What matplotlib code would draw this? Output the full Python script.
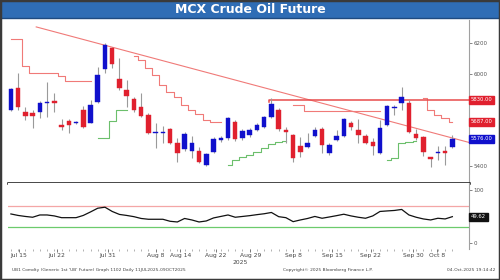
import matplotlib
matplotlib.use('Agg')
import matplotlib.pyplot as plt
from matplotlib.patches import Rectangle

# 캔들 데이터 (일봉, index 0 = Jul 14 부근)
opens = [5764, 5909, 5751, 5747, 5751, 5810, 5821, 5669, 5691, 5680,
         5764, 5682, 5818, 6029, 6165, 5964, 5894, 5834, 5782, 5732,
         5613, 5615, 5639, 5548, 5509, 5500, 5500, 5407, 5493, 5569,
         5584, 5688, 5580, 5602, 5636, 5656, 5717, 5764, 5634, 5602,
         5530, 5526, 5595, 5639, 5483, 5569, 5595, 5682, 5634, 5595,
         5558, 5483, 5667, 5775, 5808, 5812, 5608, 5587, 5457, 5487,
         5500, 5522]
highs = [5905, 6007, 5784, 5764, 5825, 5948, 5875, 5706, 5706, 5690,
         5790, 5829, 6046, 6200, 6176, 6100, 5959, 5851, 5877, 5743,
         5678, 5660, 5645, 5582, 5623, 5595, 5526, 5483, 5590, 5595,
         5720, 5699, 5640, 5645, 5680, 5725, 5840, 5775, 5656, 5608,
         5591, 5615, 5656, 5656, 5550, 5634, 5712, 5690, 5704, 5608,
         5582, 5699, 5797, 5797, 5916, 5830, 5639, 5595, 5461, 5530,
         5530, 5600]
lows = [5755, 5764, 5699, 5647, 5712, 5721, 5753, 5634, 5617, 5676,
        5650, 5678, 5808, 6007, 6035, 5894, 5786, 5753, 5717, 5608,
        5515, 5548, 5545, 5428, 5496, 5450, 5422, 5400, 5487, 5556,
        5570, 5565, 5569, 5590, 5630, 5650, 5712, 5630, 5548, 5428,
        5461, 5515, 5587, 5483, 5470, 5560, 5590, 5634, 5548, 5540,
        5472, 5478, 5660, 5730, 5764, 5613, 5569, 5465, 5392, 5439,
        5407, 5515]
closes = [5899, 5784, 5725, 5725, 5810, 5816, 5812, 5656, 5665, 5684,
          5656, 5797, 5992, 6187, 6063, 5905, 5855, 5764, 5725, 5613,
          5621, 5619, 5552, 5483, 5608, 5548, 5428, 5478, 5574, 5584,
          5710, 5574, 5630, 5634, 5667, 5717, 5803, 5642, 5621, 5450,
          5493, 5552, 5634, 5537, 5537, 5595, 5704, 5656, 5602, 5552,
          5530, 5645, 5790, 5786, 5847, 5623, 5580, 5493, 5444, 5493,
          5483, 5576]

# RSI
rsi = [54.7, 51.9, 50.0, 48.5, 52.8, 52.8, 51.0, 47.7, 47.7, 47.7,
       51.9, 58.5, 65.5, 67.4, 59.4, 53.8, 51.9, 49.6, 46.2, 44.7,
       44.7, 44.7, 40.9, 39.6, 46.2, 43.4, 39.6, 41.5, 47.2, 50.0,
       52.8, 48.5, 50.0, 51.5, 53.4, 55.1, 57.5, 49.6, 47.7, 40.2,
       43.4, 46.2, 50.0, 46.6, 49.0, 51.5, 54.2, 51.0, 48.5, 46.6,
       51.0, 59.4, 60.4, 61.3, 63.2, 52.8, 48.5, 45.3, 43.4, 46.6,
       45.3, 49.62]

# 저항(빨강) / 지지(초록) 스텝 라인: (시작 index, 값 리스트)
red_steps = [
    (0, [6224, 6224, 6050, 6008, 6008, 6008, 6008, 5985, 5950, 5950, 5950, 5950]),
    (17, [6115, 6089, 6037, 5992, 5927, 5881, 5849, 5797, 5764, 5738, 5699, 5686, 5686]),
    (39, [5797, 5797, 5756, 5756, 5756, 5756, 5756, 5756, 5756, 5756, 5756, 5756, 5756]),
    (57, [5840, 5764, 5732, 5711, 5687]),
]
green_steps = [
    (12, [5580, 5580, 5690, 5764, 5764]),
    (30, [5407, 5440, 5455, 5470, 5490, 5515, 5545, 5556, 5560]),
    (52, [5440, 5450, 5550, 5556, 5560]),
]

resistance_level = 5830
resistance_start = 35.6
trend_x = [3.5, 63.3]
trend_y = [6305, 5553]

price_ticks = [5400, 5600, 5800, 6000, 6200]
price_ticklabels = ["5400", "", "", "6000", "6200"]  # 5600/5800 은 값 라벨에 가려짐

date_pos = [1.1, 6.4, 13.4, 20.0, 23.4, 28.3, 33.1, 39.0, 44.4, 49.7, 55.6, 58.9]
date_labels = ["Jul 15", "Jul 22", "Jul 31", "Aug 8", "Aug 14", "Aug 22", "Aug 29",
               "Sep 8", "Sep 15", "Sep 22", "Sep 30", "Oct 8"]

BLUE = '#1010CC'
RED = '#E0202E'
LRED = '#F07A78'
GREEN = '#6CBF6C'

fig = plt.figure(figsize=(5, 2.8), dpi=100)

# 타이틀 바
fig.patches.append(Rectangle((0, 1 - 18 / 280), 1, 18 / 280, transform=fig.transFigure,
                             facecolor='#2F6DB5', edgecolor='#1E4A80', lw=1))
fig.text(0.5, 1 - 9.5 / 280, "MCX Crude Oil Future", ha='center', va='center',
         color='white', fontsize=9, fontweight='bold')
fig.patches.append(Rectangle((0, 0), 1, 1, transform=fig.transFigure,
                             fill=False, edgecolor='#3A3A3A', lw=2.5))

ax = fig.add_axes([8 / 500, 1 - 183 / 280, 461 / 500, 163 / 280])
ax2 = fig.add_axes([8 / 500, 1 - 249 / 280, 461 / 500, 66 / 280], sharex=ax)

idx = list(range(len(closes)))

# 라인들
ax.plot(trend_x, trend_y, color=LRED, lw=0.8, zorder=1)
for start, vals in red_steps:
    ax.plot(range(start, start + len(vals)), vals, drawstyle='steps-mid',
            color=LRED, lw=0.8, zorder=1)
for start, vals in green_steps:
    ax.plot(range(start, start + len(vals)), vals, drawstyle='steps-mid',
            color=GREEN, lw=0.8, zorder=1)
ax.plot([resistance_start, resistance_start, trend_x[1]],
        [resistance_level - 15, resistance_level, resistance_level],
        color='#E84C4C', lw=1.1, zorder=1)

# 캔들
colors = [BLUE if c >= o else RED for o, c in zip(opens, closes)]
ax.vlines(idx, lows, highs, color='#9A9A9A', lw=0.8, zorder=2)
bottoms = [min(o, c) for o, c in zip(opens, closes)]
heights = [max(abs(c - o), 5) for o, c in zip(opens, closes)]
ax.bar(idx, heights, bottom=bottoms, width=0.62, color=colors,
       edgecolor=colors, lw=0.3, zorder=3)

ax.set_xlim(-0.4, 63.3)
ax.set_ylim(5289, 6350)
ax.set_yticks(price_ticks)
ax.set_yticklabels(price_ticklabels)
ax.yaxis.tick_right()
ax.tick_params(axis='y', labelsize=4, colors='#555555', length=2, width=0.5, pad=1)
ax.tick_params(axis='x', bottom=False, labelbottom=False)
for s in ['top', 'left']:
    ax.spines[s].set_visible(False)
ax.spines['right'].set_color('#A0A0A0')
ax.spines['right'].set_linewidth(0.8)
ax.spines['bottom'].set_color('#111111')
ax.spines['bottom'].set_linewidth(1.8)

# 오른쪽 값 라벨 (초록 라벨은 파란 라벨 밑에 가려져 색 띠만 보임)
ax.add_patch(Rectangle((1.002, green_steps[-1][1][-1] - 14), 0.052, 26,
                       transform=ax.get_yaxis_transform(), clip_on=False,
                       facecolor='#2E8B3E', edgecolor='none', zorder=4))
labels = [
    (resistance_level, RED, f"{resistance_level:.2f}"),
    (red_steps[-1][1][-1], RED, f"{red_steps[-1][1][-1]:.2f}"),
    (closes[-1], BLUE, f"{closes[-1]:.2f}"),
]
for val, col, txt in labels:
    ax.text(1.004, val, txt, transform=ax.get_yaxis_transform(), fontsize=3.8,
            color='white', va='center', ha='left', clip_on=False, zorder=5,
            bbox=dict(boxstyle='square,pad=0.3', fc=col, ec=col))

# RSI 패널
ax2.axhline(70, color='#F4A6A6', lw=0.9)
ax2.axhline(30, color='#6CCB6C', lw=0.9)
ax2.plot(idx, rsi, color='#111111', lw=0.9)
ax2.set_ylim(-11.3, 113)
ax2.set_yticks([0, 100])
ax2.yaxis.tick_right()
ax2.tick_params(axis='y', labelsize=4, colors='#555555', length=2, width=0.5, pad=1)
ax2.set_xticks(date_pos)
ax2.set_xticklabels(date_labels)
ax2.set_xticks(idx, minor=True)
ax2.tick_params(axis='x', which='major', labelsize=4.3, colors='#444444', length=2,
                width=0.5, pad=1)
ax2.tick_params(axis='x', which='minor', length=1.2, width=0.4, colors='#777777')
for s in ['top', 'left']:
    ax2.spines[s].set_visible(False)
ax2.spines['right'].set_color('#A0A0A0')
ax2.spines['right'].set_linewidth(0.8)
ax2.spines['bottom'].set_visible(False)
ax2.text(1.004, rsi[-1], f"{rsi[-1]:.2f}", transform=ax2.get_yaxis_transform(),
         fontsize=3.8, color='white', va='center', ha='left', clip_on=False,
         bbox=dict(boxstyle='square,pad=0.3', fc='#111111', ec='#111111'))
ax2.text(31.7, -0.2, "2025", transform=ax2.get_xaxis_transform(), fontsize=4.3,
         color='#444444', ha='center', va='center')

# 하단 출처
fig.text(0.024, 1 - 270 / 280, "UB1 Comdty (Generic 1st 'UB' Future) Graph 1102 Daily 11JUL2025-09OCT2025",
         fontsize=3.2, color='#444444', va='center', ha='left')
fig.text(0.656, 1 - 270 / 280, "Copyright\u00a9 2025 Bloomberg Finance L.P.",
         fontsize=3.2, color='#444444', va='center', ha='center')
fig.text(0.99, 1 - 270 / 280, "04-Oct-2025 19:14:42",
         fontsize=3.2, color='#444444', va='center', ha='right')

plt.savefig("out.png", dpi=100)
